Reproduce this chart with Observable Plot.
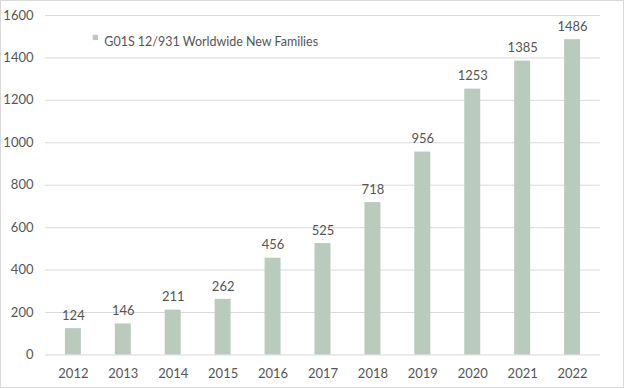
<!DOCTYPE html>
<html>
<head>
<meta charset="utf-8">
<script src="https://cdn.jsdelivr.net/npm/d3@7"></script>
<script src="https://cdn.jsdelivr.net/npm/@observablehq/plot@0.6"></script>
<style>
  html, body { margin: 0; padding: 0; background: #fff; }
  #frame { width: 622px; height: 386px; border: 1px solid #d9d9d9; position: relative; overflow: hidden; }
  #chart { position: absolute; left: -1px; top: -1px; }
</style>
</head>
<body>
<div id="frame"><div id="chart"></div></div>
<script>
const years = ["2012","2013","2014","2015","2016","2017","2018","2019","2020","2021","2022"];
const families = [124,146,211,262,456,525,718,956,1253,1385,1486];
const yTicks = [0,200,400,600,800,1000,1200,1400,1600];
const seriesName = "G01S 12/931 Worldwide New Families";

const data = years.map((y, i) => ({year: y, value: families[i]}));
const barColor = "#b9cbbd";
const textColor = "#555555";

const chart = Plot.plot({
  width: 624,
  height: 388,
  marginLeft: 45,
  marginRight: 23,
  marginTop: 15,
  marginBottom: 33,
  style: {fontFamily: "Lato, 'Noto Sans', sans-serif", fontSize: "13px", color: textColor, background: "white"},
  x: {domain: years, paddingInner: 0.68, paddingOuter: 0.34, label: null, tickSize: 0, tickPadding: 14},
  y: {domain: [0, 1600], ticks: yTicks, label: null, tickSize: 0, tickPadding: 12},
  marks: [
    Plot.gridY(yTicks, {stroke: "#d9d9d9", strokeOpacity: 1}),
    Plot.ruleX([0], {frameAnchor: "right", stroke: "#e3e3e3"}),
    Plot.barY(data, {x: "year", y: "value", fill: barColor}),
    Plot.text(data, {x: "year", y: "value", text: d => String(d.value), dy: -13, fill: textColor, fontSize: 13}),
    Plot.axisX({tickSize: 0, tickPadding: 14, fill: textColor, fontSize: 13}),
    Plot.axisY(yTicks, {tickSize: 0, tickPadding: 12, fill: textColor, fontSize: 13, tickFormat: d => String(d)}),
    Plot.dot([seriesName], {frameAnchor: "top-left", dx: 50, dy: 22, symbol: "square", r: 3, fill: barColor}),
    Plot.text([seriesName], {frameAnchor: "top-left", dx: 59, dy: 22, text: d => d, textAnchor: "start", fill: textColor, fontSize: 12.5})
  ]
});
document.getElementById("chart").appendChild(chart);
</script>
</body>
</html>
